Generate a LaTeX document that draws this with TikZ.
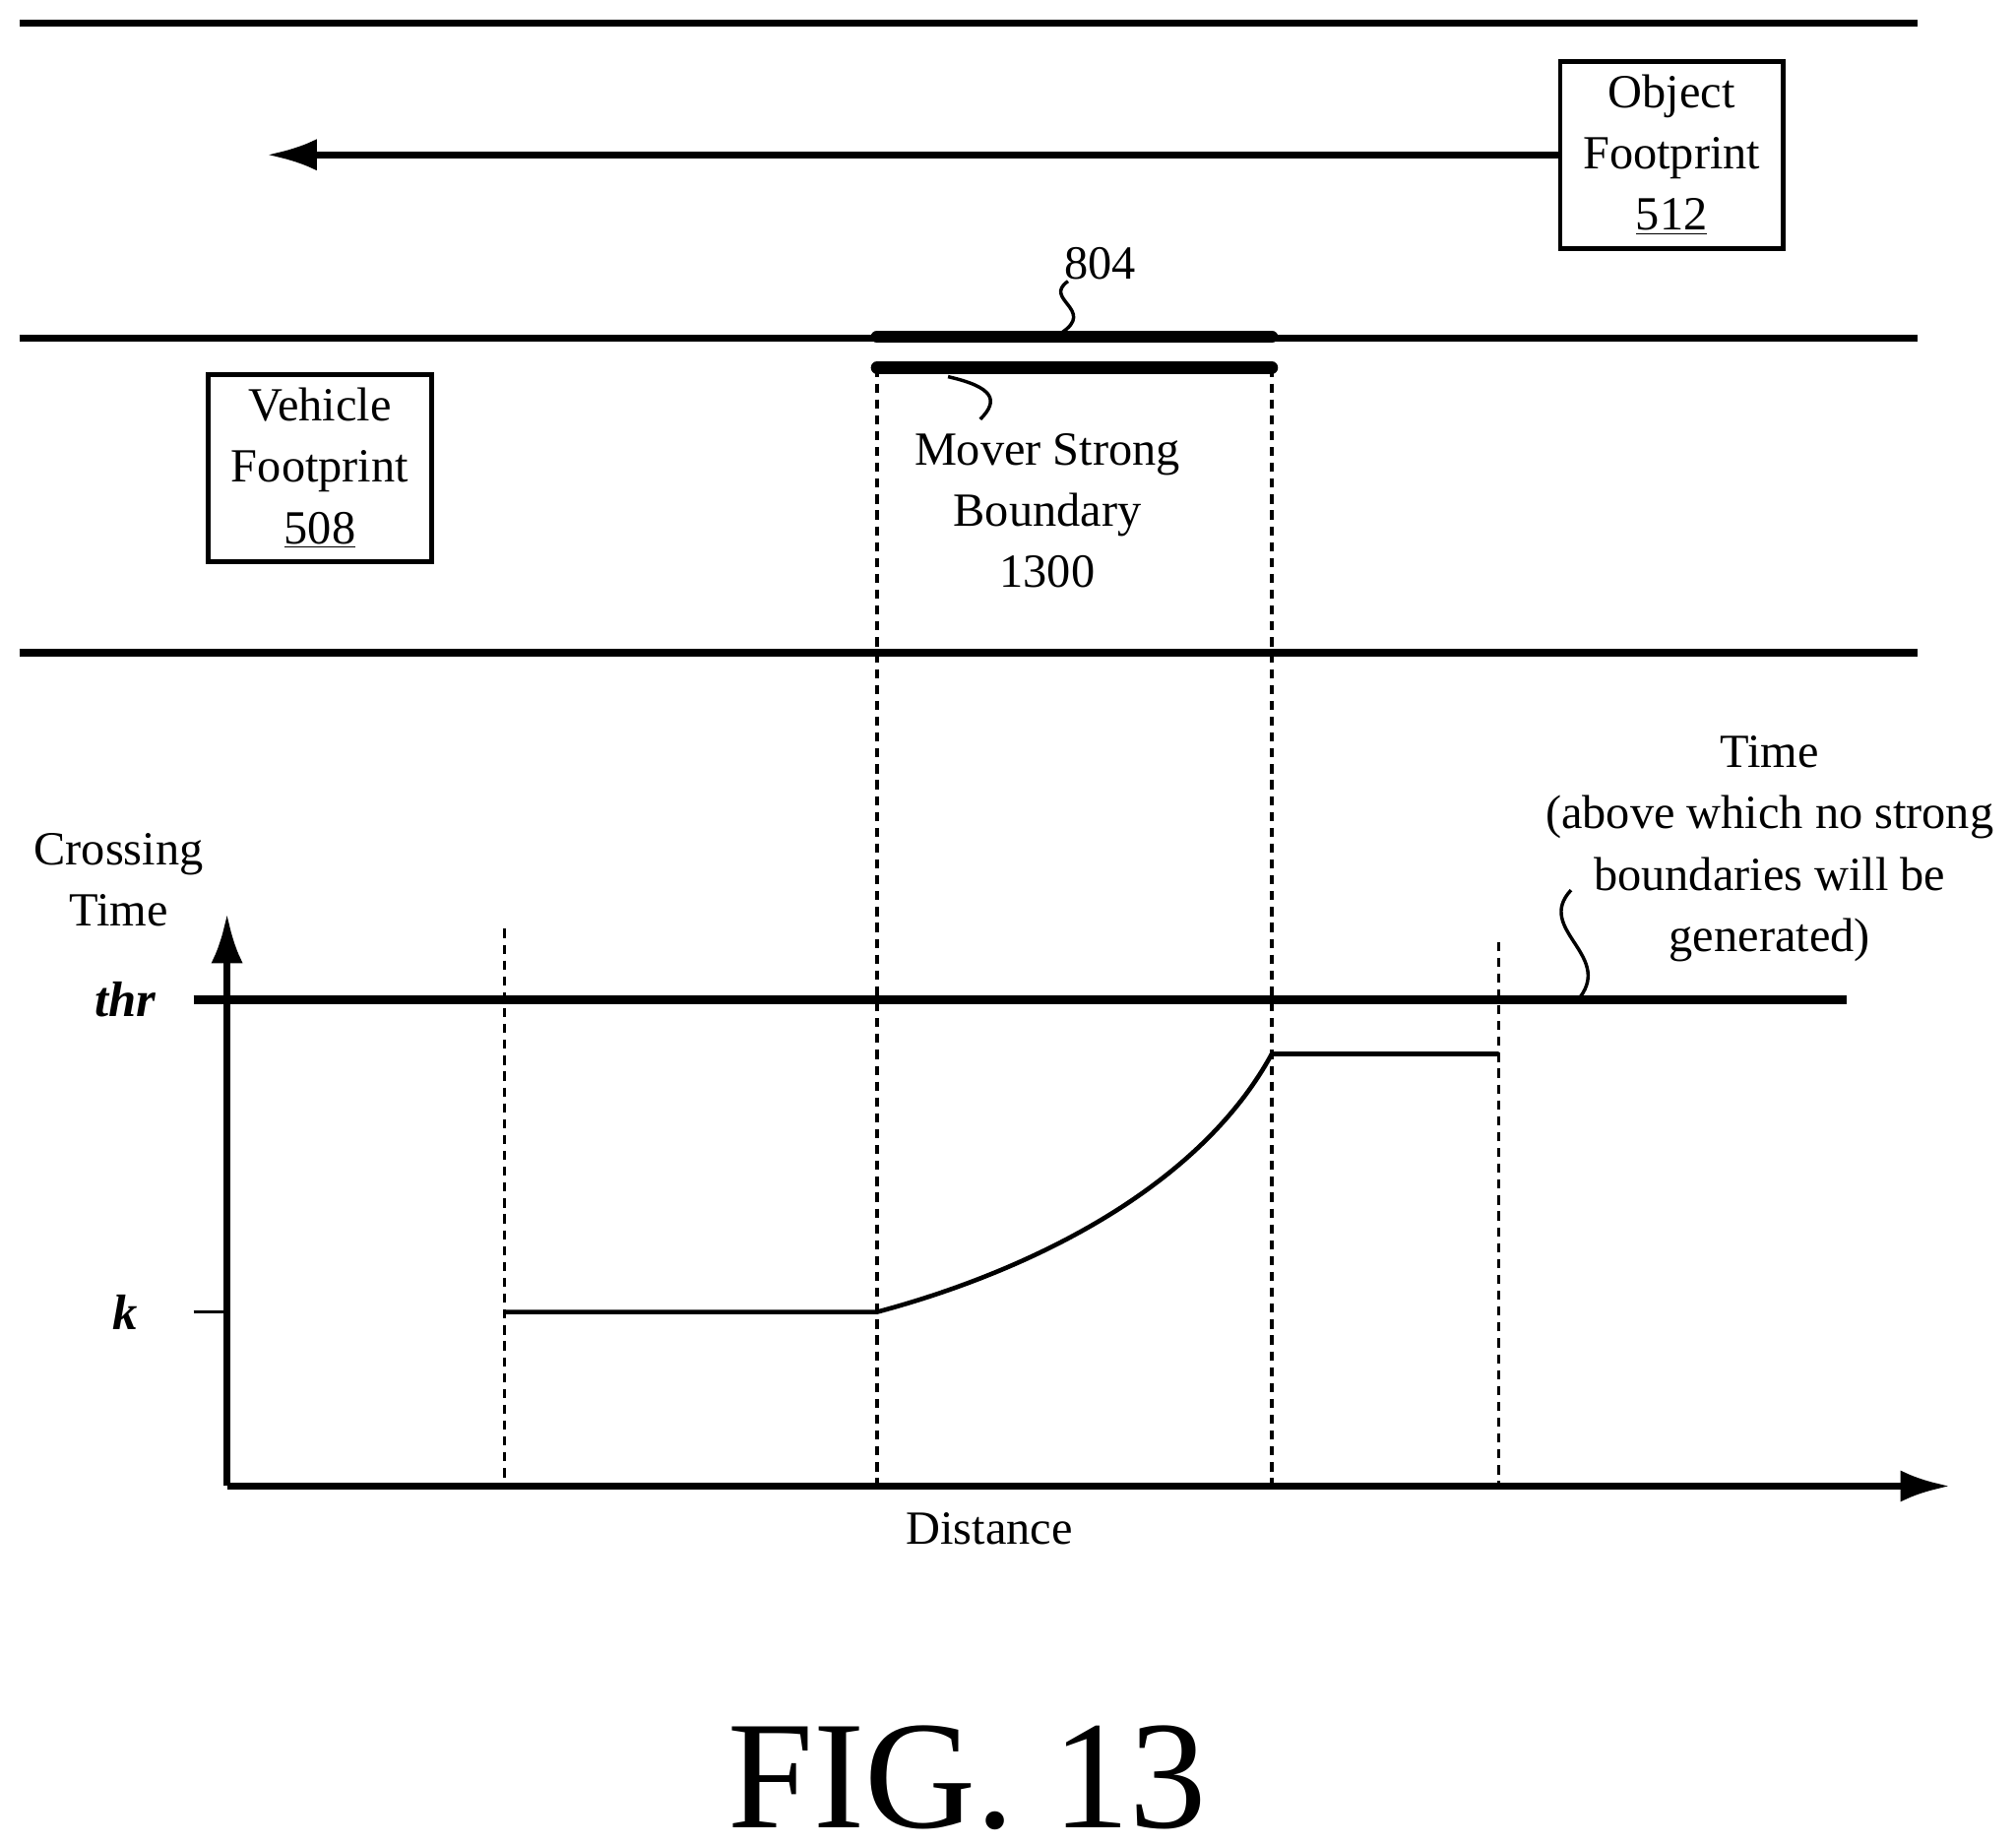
\documentclass[tikz,border=0pt]{standalone}
\usepackage{fontspec}
\setmainfont{Liberation Serif}
\usetikzlibrary{positioning,arrows.meta}
\tikzset{
  road/.style={line width=3.2pt},
  fbox/.style={draw, line width=2pt, align=center, font=\fontsize{21}{27}\selectfont, inner sep=4pt},
  lbl/.style={align=center, font=\fontsize{21}{27}\selectfont},
  guide/.style={line width=1.4pt, dash pattern=on 4pt off 3pt},
  squig/.style={line width=1.5pt}
}
\begin{document}
\begin{tikzpicture}[x=0.02cm, y=-0.02cm]
        \useasboundingbox (0,0) rectangle (1563,1430);
        % road
        \draw[road] (15,18) -- (1487,18);
        \draw[road] (15,262) -- (1487,262);
        \draw[road] (15,506) -- (1487,506);

        \node[fbox, minimum width=3.46cm, minimum height=2.9cm] (obj) at (1296,120) {Object\\Footprint\\\underline{512}};
        \node[fbox, minimum width=3.46cm, minimum height=2.9cm] (veh) at (248,363) {Vehicle\\Footprint\\\underline{508}};
        \coordinate (arrEnd) at (207,120);
        \draw[line width=3pt, -{Latex[length=22pt, width=14pt]}] (obj.west) -- (arrEnd);

        % strong boundary
        \coordinate (b1) at (680,261);
        \coordinate (b2) at (986,261);
        \coordinate (c1) at (680,285);
        \coordinate (c2) at (986,285);
        \draw[line width=5.5pt, line cap=round] (b1) -- (b2);
        \draw[line width=5.5pt, line cap=round] (c1) -- (c2);
        \node[lbl] (l804) at (853,204) {804};
        \draw[squig] (828,218) .. controls (808,232) and (850,240) .. (823,258);
        \node[lbl] (mover) at (812,396) {Mover Strong\\Boundary\\1300};
        \draw[squig] (735,292) .. controls (770,300) and (775,310) .. (760,325);

        % axes
        \coordinate (o) at (176,1152);
        \coordinate (ytop) at (176,708);
        \coordinate (xend) at (1512,1152);
        \draw[line width=3.2pt, -{Latex[length=22pt, width=14pt]}] (o) -- (ytop);
        \draw[line width=3.2pt, -{Latex[length=22pt, width=14pt]}] (o) -- (xend);
        \node[lbl] (ylab) at (92,682) {Crossing\\Time};
        \node[lbl] (xlab) at (767,1185) {Distance};
        \coordinate (thrA) at (150,775);
        \coordinate (thrB) at (1432,775);
        \draw[line width=4pt] (thrA) -- (thrB);
        \node[lbl, font=\fontsize{22}{27}\selectfont\bfseries\itshape] (thr) at (97,775) {thr};
        \coordinate (kA) at (150,1017);
        \coordinate (kB) at (176,1017);
        \draw[line width=1.6pt] (kA) -- (kB);
        \node[lbl, font=\fontsize{22}{27}\selectfont\bfseries\itshape] (k) at (97,1017) {k};

        % dashed guides
        \draw[guide] (391,720) -- (391,1152);
        \draw[guide] (c1) -- (680,1152);
        \draw[guide] (c2) -- (986,1152);
        \draw[guide] (1162,730) -- (1162,1152);

        % crossing time curve
        \coordinate (p1) at (391,1017);
        \coordinate (p2) at (680,1017);
        \coordinate (p3) at (986,817);
        \coordinate (p4) at (1162,817);
        \draw[line width=2pt] (p1) -- (p2) .. controls (800,985) and (930,920) .. (p3) -- (p4);

        \node[lbl] (tlab) at (1372,658) {Time\\(above which no strong\\boundaries will be\\generated)};
        \draw[squig] (1218,690) .. controls (1190,720) and (1250,740) .. (1225,773);

        \node[font=\fontsize{68}{72}\selectfont] (fig) at (750,1378) {FIG. 13};
\end{tikzpicture}
\end{document}
